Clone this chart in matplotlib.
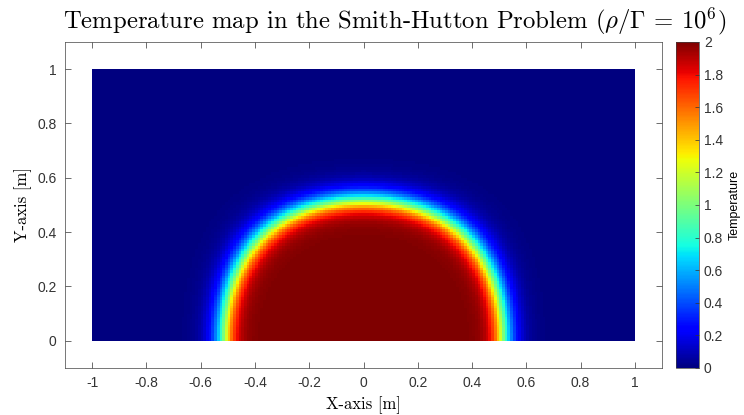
import numpy as np
import matplotlib
matplotlib.use("Agg")
import matplotlib.pyplot as plt

plt.rcParams['mathtext.fontset'] = 'cm'
plt.rcParams['axes.unicode_minus'] = False
plt.rcParams['font.family'] = ['Liberation Sans', 'DejaVu Sans']

# Smith-Hutton problem, convection dominated (rho/Gamma = 1e6)
alpha_in = 11.0    # steepness on the hot side of the front
alpha_out = 9.0    # steepness on the cold side (numerical diffusion)
front_shift = 0.035
x_lim = [-1.0, 1.0]
y_lim = [0.0, 1.0]
nx, ny = 200, 100
t_min, t_max = 0, 2

x_ticks = [-1, -0.8, -0.6, -0.4, -0.2, 0, 0.2, 0.4, 0.6, 0.8, 1]
y_ticks = [0, 0.2, 0.4, 0.6, 0.8, 1]
cb_ticks = [0, 0.2, 0.4, 0.6, 0.8, 1, 1.2, 1.4, 1.6, 1.8, 2]

title = r"Temperature map in the Smith-Hutton Problem ($\rho/\Gamma$ = $10^6$)"
xlabel = "X-axis [m]"
ylabel = "Y-axis [m]"
cblabel = "Temperature"

# temperature carried along streamlines psi = 2y(1-x^2) from the inlet
xc = np.linspace(x_lim[0], x_lim[1], nx)
yc = np.linspace(y_lim[0], y_lim[1], ny)
X, Y = np.meshgrid(xc, yc)
x0 = -np.sqrt(1 - (1 - X**2) * (1 - Y**2))
z = 2 * x0 + 1 + front_shift
T = 1 + np.tanh(np.where(z > 0, alpha_in, alpha_out) * z)

fig = plt.figure(figsize=(7.44, 4.15), dpi=100)
ax = fig.add_axes([0.0874, 0.1133, 0.8024, 0.7855])
cax = fig.add_axes([0.9086, 0.1133, 0.0309, 0.7855])

im = ax.imshow(T, origin='lower', extent=[x_lim[0], x_lim[1], y_lim[0], y_lim[1]],
               cmap='jet', vmin=t_min, vmax=t_max, aspect='auto', interpolation='nearest')
ax.set_xlim(-1.1, 1.1)
ax.set_ylim(-0.1, 1.1)
ax.set_xticks(x_ticks)
ax.set_yticks(y_ticks)
ax.set_xticklabels([('%g' % v) for v in x_ticks])
ax.set_yticklabels([('%g' % v) for v in y_ticks])
ax.tick_params(direction='in', top=True, right=True, length=4, width=0.5,
               labelsize=10, colors='#333333', pad=6)
for s in ax.spines.values():
    s.set_color('#404040')
    s.set_linewidth(0.5)

ax.set_xlabel(xlabel, fontfamily='cmr10', fontsize=12, labelpad=4)
ax.set_ylabel(ylabel, fontfamily='cmr10', fontsize=12, labelpad=4)
fig.text(0.53, 0.948, title, fontfamily='cmr10', fontsize=17.8, ha='center', va='center')

cb = fig.colorbar(im, cax=cax, ticks=cb_ticks)
cb.ax.set_yticklabels([('%g' % v) for v in cb_ticks])
cb.ax.tick_params(direction='in', length=3, width=0.5, labelsize=10, colors='#333333')
cb.outline.set_linewidth(0.5)
cb.outline.set_edgecolor('#404040')
cb.set_label(cblabel, fontsize=9, labelpad=4)

fig.savefig("out.png", dpi=100)
